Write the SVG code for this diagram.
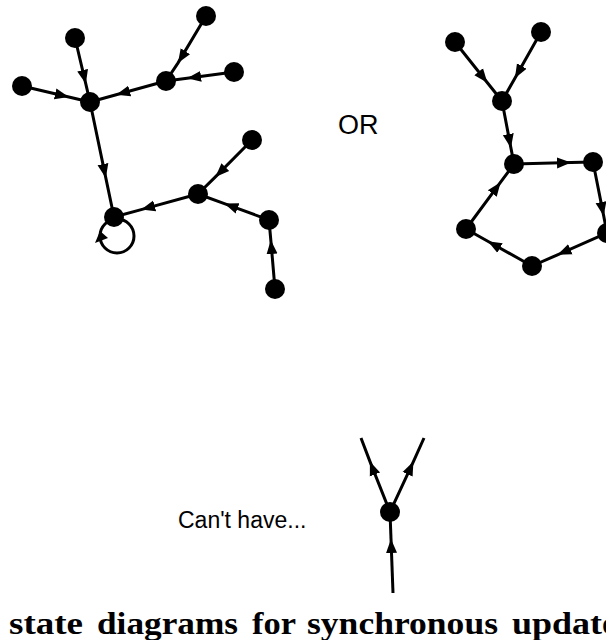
<svg xmlns="http://www.w3.org/2000/svg" width="606" height="640" viewBox="0 0 606 640">
<style>
.node{fill:#000}
.edge{fill:none;stroke:#000;stroke-width:3;marker-mid:url(#ah)}
.plain{fill:none;stroke:#000;stroke-width:3}
.sans{font-family:"Liberation Sans",Arial,sans-serif;fill:#000}
.cap{font-family:"Liberation Serif","Times New Roman",serif;font-weight:bold;font-size:31px;fill:#000}
</style>
<defs>
<marker id="ah" markerUnits="userSpaceOnUse" markerWidth="15" markerHeight="13" viewBox="0 0 15 13" refX="14" refY="6.5" orient="auto">
<path d="M0,1 L14,6.5 L0,12 z" fill="#000"/>
</marker>
</defs>
<rect width="606" height="640" fill="#fff"/>
<g id="connectors">
<path class="edge" d="M75,38 L85.8,83.8 L90,102"/>
<path class="edge" d="M22,86 L68.8,97 L90,102"/>
<path class="edge" d="M166,81 L116.2,94.8 L90,102"/>
<path class="edge" d="M206,16 L177.9,63.1 L166,81"/>
<path class="edge" d="M234,72 L187.1,78.2 L166,81"/>
<path class="edge" d="M90,102 L105.8,177.9 L114,217"/>
<path class="edge" d="M198,194 L141.2,209.6 L114,217"/>
<path class="edge" d="M252,140 L215.4,176.9 L198,194"/>
<path class="edge" d="M269,220 L224.4,203.6 L198,194"/>
<path class="edge" d="M275,289 L270.8,240 L269,220"/>
<circle class="plain" cx="117" cy="236" r="17"/>
<polygon points="95,243 100,231 108,238" fill="#000"/>
<path class="edge" d="M455,42 L487.4,82.7 L502,101"/>
<path class="edge" d="M541,32 L514.9,78.2 L502,101"/>
<path class="edge" d="M502,101 L510.9,147.9 L514,164"/>
<path class="edge" d="M514,164 L571,162.6 L593,162"/>
<path class="edge" d="M593,162 L603.7,215.9 L607,233"/>
<path class="edge" d="M607,233 L557.5,254.8 L532,266"/>
<path class="edge" d="M532,266 L487.8,241.2 L466,229"/>
<path class="edge" d="M466,229 L500.6,182.2 L514,164"/>
<path class="edge" d="M390,512 L369.9,461.4 L361,438"/>
<path class="edge" d="M390,512 L413.4,461.6 L424,438"/>
<path class="edge" d="M393,593 L391,539 L390,512"/>
</g>
<g id="n_a"><circle class="node" cx="75" cy="38" r="10"/></g>
<g id="n_b"><circle class="node" cx="22" cy="86" r="10"/></g>
<g id="n_h1"><circle class="node" cx="90" cy="102" r="10"/></g>
<g id="n_tr"><circle class="node" cx="206" cy="16" r="10"/></g>
<g id="n_c"><circle class="node" cx="166" cy="81" r="10"/></g>
<g id="n_d"><circle class="node" cx="234" cy="72" r="10"/></g>
<g id="n_root"><circle class="node" cx="114" cy="217" r="10"/></g>
<g id="n_e"><circle class="node" cx="252" cy="140" r="10"/></g>
<g id="n_f"><circle class="node" cx="198" cy="194" r="10"/></g>
<g id="n_g"><circle class="node" cx="269" cy="220" r="10"/></g>
<g id="n_i"><circle class="node" cx="275" cy="289" r="10"/></g>
<g id="n_r_tl"><circle class="node" cx="455" cy="42" r="10"/></g>
<g id="n_r_tr"><circle class="node" cx="541" cy="32" r="10"/></g>
<g id="n_r_m"><circle class="node" cx="502" cy="101" r="10"/></g>
<g id="n_r_n"><circle class="node" cx="514" cy="164" r="10"/></g>
<g id="n_r_p"><circle class="node" cx="593" cy="162" r="10"/></g>
<g id="n_r_q"><circle class="node" cx="607" cy="233" r="10"/></g>
<g id="n_r_s"><circle class="node" cx="532" cy="266" r="10"/></g>
<g id="n_r_r"><circle class="node" cx="466" cy="229" r="10"/></g>
<g id="n_z"><circle class="node" cx="390" cy="512" r="10"/></g>
<g id="label_or"><text class="sans" x="338" y="134" font-size="27">OR</text></g>
<g id="label_cant"><text class="sans" x="178" y="528" font-size="23">Can't have...</text></g>
<g id="caption">
<text class="cap" x="9" y="634" textLength="74" lengthAdjust="spacingAndGlyphs">state</text>
<text class="cap" x="97" y="634" textLength="141" lengthAdjust="spacingAndGlyphs">diagrams</text>
<text class="cap" x="252" y="634" textLength="44" lengthAdjust="spacingAndGlyphs">for</text>
<text class="cap" x="307" y="634" textLength="191" lengthAdjust="spacingAndGlyphs">synchronous</text>
<text class="cap" x="512" y="634" textLength="106" lengthAdjust="spacingAndGlyphs">update</text>
</g>
</svg>
